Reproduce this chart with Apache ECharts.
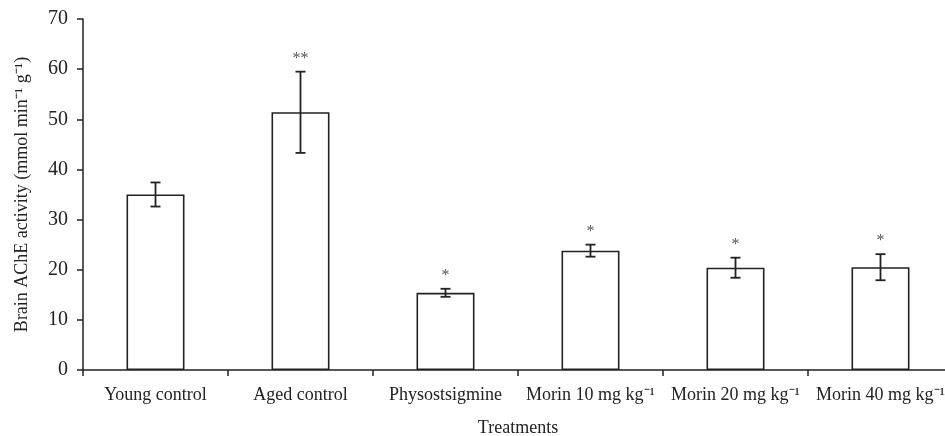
<!DOCTYPE html>
<html>
<head>
<meta charset="utf-8">
<script src="https://cdn.jsdelivr.net/npm/echarts@6/dist/echarts.min.js"></script>
<style>html,body{margin:0;padding:0;background:#fff}#c{width:945px;height:436px}</style>
</head>
<body>
<div id="c"></div>
<script>
const categories = ['Young control', 'Aged control', 'Physostsigmine', 'Morin 10 mg kg\u207B\u00B9', 'Morin 20 mg kg\u207B\u00B9', 'Morin 40 mg kg\u207B\u00B9'];
const means = [35.0, 51.4, 15.4, 23.8, 20.4, 20.5];
const errors = [2.4, 8.1, 0.8, 1.2, 2.0, 2.6];
const stars = ['', '**', '*', '*', '*', '*'];
const yTicks = [0, 10, 20, 30, 40, 50, 60, 70];

const font = 'Liberation Serif';
const chart = echarts.init(document.getElementById('c'));
const errData = means.map((m, i) => [i, m - errors[i], m + errors[i]]);

chart.setOption({
  animation: false,
  grid: { left: 83, top: 19, bottom: 66, width: 870, outerBoundsMode: 'none', containLabel: false },
  xAxis: {
    type: 'category',
    data: categories,
    name: 'Treatments',
    nameLocation: 'middle',
    nameGap: 49,
    nameTextStyle: { fontFamily: font, fontSize: 18, color: '#222' },
    axisLine: { lineStyle: { color: '#222', width: 1.5 } },
    axisTick: { show: true, length: 6, lineStyle: { color: '#222', width: 1.5 } },
    axisLabel: { fontFamily: font, fontSize: 18, color: '#222', margin: 16, interval: 0 }
  },
  yAxis: {
    type: 'value',
    min: yTicks[0],
    max: yTicks[yTicks.length - 1],
    interval: 10,
    name: 'Brain AChE activity (mmol min\u207B\u00B9 g\u207B\u00B9)',
    nameLocation: 'middle',
    nameGap: 52,
    nameTextStyle: { fontFamily: font, fontSize: 18, color: '#222' },
    splitLine: { show: false },
    axisLine: { show: true, lineStyle: { color: '#222', width: 1.5 } },
    axisTick: { show: true, length: 6, lineStyle: { color: '#222', width: 1.5 } },
    axisLabel: { fontFamily: font, fontSize: 20, color: '#222', margin: 15 }
  },
  series: [
    {
      type: 'bar',
      data: means,
      barWidth: 58,
      itemStyle: { color: '#fff', borderColor: '#222', borderWidth: 1.6 }
    },
    {
      type: 'custom',
      data: errData,
      z: 10,
      renderItem: function (params, api) {
        const x = api.value(0);
        const lo = api.coord([x, api.value(1)]);
        const hi = api.coord([x, api.value(2)]);
        const hw = 5;
        const ls = { stroke: '#222', lineWidth: 1.8 };
        const children = [
          { type: 'line', shape: { x1: lo[0], y1: lo[1], x2: hi[0], y2: hi[1] }, style: ls },
          { type: 'line', shape: { x1: lo[0] - hw, y1: lo[1], x2: lo[0] + hw, y2: lo[1] }, style: ls },
          { type: 'line', shape: { x1: hi[0] - hw, y1: hi[1], x2: hi[0] + hw, y2: hi[1] }, style: ls }
        ];
        const s = stars[params.dataIndex];
        if (s) {
          children.push({
            type: 'text',
            style: {
              text: s, x: hi[0], y: hi[1] - 5,
              textAlign: 'center', textVerticalAlign: 'bottom',
              font: '16px "' + font + '"', fill: '#555'
            }
          });
        }
        return { type: 'group', children: children };
      }
    }
  ]
});
</script>
</body>
</html>
